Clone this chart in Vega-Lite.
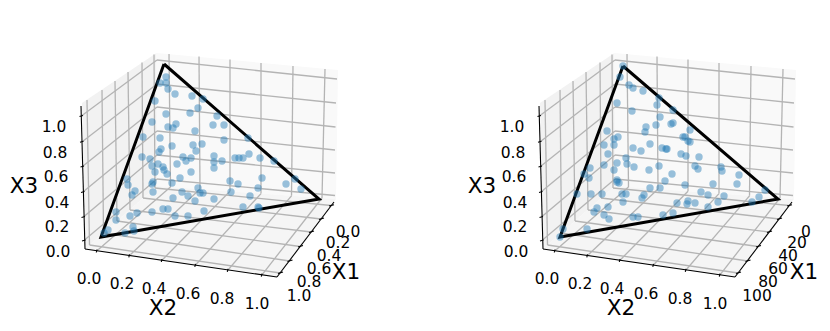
{
"$schema":"https://vega.github.io/schema/vega-lite/v6.json",
"width":830,"height":331,"padding":0,"autosize":{"type":"fit","contains":"padding"},
"background":"white","config":{"view":{"stroke":null}},
"datasets":{
"panes":[
{"p":"l1","o":0,"x":82,"y":103},{"p":"l1","o":1,"x":156.5,"y":53},{"p":"l1","o":2,"x":157,"y":186},{"p":"l1","o":3,"x":85,"y":249},
{"p":"l2","o":0,"x":540,"y":103},{"p":"l2","o":1,"x":614.5,"y":53},{"p":"l2","o":2,"x":615,"y":186},{"p":"l2","o":3,"x":543,"y":249}],
"panesB":[
{"p":"b1","o":0,"x":156.5,"y":53},{"p":"b1","o":1,"x":338,"y":70},{"p":"b1","o":2,"x":336,"y":199},{"p":"b1","o":3,"x":157,"y":186},
{"p":"b2","o":0,"x":614.5,"y":53},{"p":"b2","o":1,"x":796,"y":70},{"p":"b2","o":2,"x":794,"y":199},{"p":"b2","o":3,"x":615,"y":186}],
"panesF":[
{"p":"f1","o":0,"x":85,"y":249},{"p":"f1","o":1,"x":277,"y":277},{"p":"f1","o":2,"x":336,"y":199},{"p":"f1","o":3,"x":157,"y":186},
{"p":"f2","o":0,"x":543,"y":249},{"p":"f2","o":1,"x":735,"y":277},{"p":"f2","o":2,"x":794,"y":199},{"p":"f2","o":3,"x":615,"y":186}],
"grid":[
{"x":169,"y":54,"x2":170.5,"y2":187},{"x":199,"y":56.5,"x2":200,"y2":189},{"x":230,"y":59.5,"x2":230,"y2":191.3},{"x":261,"y":63,"x2":261,"y2":193.6},{"x":293,"y":66,"x2":291.5,"y2":195.8},{"x":325,"y":69,"x2":322,"y2":198},
{"x":157,"y":60,"x2":337,"y2":79},{"x":157,"y":84,"x2":336,"y2":103},{"x":157,"y":107,"x2":335.5,"y2":127},{"x":157,"y":131,"x2":335,"y2":150},{"x":157,"y":155,"x2":335,"y2":173},{"x":157,"y":179,"x2":335,"y2":195.5},
{"x":82,"y":115.5,"x2":157,"y2":60},{"x":82.5,"y":141.5,"x2":157,"y2":84},{"x":83,"y":166,"x2":157,"y2":107},{"x":83.5,"y":191.5,"x2":157,"y2":131},{"x":84,"y":216.5,"x2":157,"y2":155},{"x":84.5,"y":240,"x2":157,"y2":179},
{"x":87,"y":100,"x2":89.5,"y2":245},{"x":102,"y":90,"x2":103.5,"y2":233},{"x":115,"y":81,"x2":117,"y2":221},{"x":128,"y":72,"x2":130,"y2":210},{"x":142,"y":62.5,"x2":143,"y2":198},{"x":154,"y":54.5,"x2":155,"y2":188},
{"x":155,"y":188,"x2":331,"y2":205.5},{"x":143,"y":198,"x2":321,"y2":219},{"x":130,"y":210,"x2":311,"y2":232},{"x":117,"y":221,"x2":300,"y2":246.5},{"x":103.5,"y":233,"x2":289.5,"y2":261},{"x":89.5,"y":245,"x2":280,"y2":273},
{"x":170.5,"y":187,"x2":97,"y2":250.7},{"x":200,"y":189,"x2":129.5,"y2":255.5},{"x":230,"y":191.3,"x2":162,"y2":260.2},{"x":261,"y":193.6,"x2":195.5,"y2":265},{"x":291.5,"y":195.8,"x2":228,"y2":270},{"x":322,"y":198,"x2":262,"y2":274.8},
{"x":627,"y":54,"x2":628.5,"y2":187},{"x":657,"y":56.5,"x2":658,"y2":189},{"x":688,"y":59.5,"x2":688,"y2":191.3},{"x":719,"y":63,"x2":719,"y2":193.6},{"x":751,"y":66,"x2":749.5,"y2":195.8},{"x":783,"y":69,"x2":780,"y2":198},
{"x":615,"y":60,"x2":795,"y2":79},{"x":615,"y":84,"x2":794,"y2":103},{"x":615,"y":107,"x2":793.5,"y2":127},{"x":615,"y":131,"x2":793,"y2":150},{"x":615,"y":155,"x2":793,"y2":173},{"x":615,"y":179,"x2":793,"y2":195.5},
{"x":540,"y":115.5,"x2":615,"y2":60},{"x":540.5,"y":141.5,"x2":615,"y2":84},{"x":541,"y":166,"x2":615,"y2":107},{"x":541.5,"y":191.5,"x2":615,"y2":131},{"x":542,"y":216.5,"x2":615,"y2":155},{"x":542.5,"y":240,"x2":615,"y2":179},
{"x":545,"y":100,"x2":547.5,"y2":245},{"x":560,"y":90,"x2":561.5,"y2":233},{"x":573,"y":81,"x2":575,"y2":221},{"x":586,"y":72,"x2":588,"y2":210},{"x":600,"y":62.5,"x2":601,"y2":198},{"x":612,"y":54.5,"x2":613,"y2":188},
{"x":613,"y":188,"x2":789,"y2":205.5},{"x":601,"y":198,"x2":779,"y2":219},{"x":588,"y":210,"x2":769,"y2":232},{"x":575,"y":221,"x2":758,"y2":246.5},{"x":561.5,"y":233,"x2":747.5,"y2":261},{"x":547.5,"y":245,"x2":738,"y2":273},
{"x":628.5,"y":187,"x2":555,"y2":250.7},{"x":658,"y":189,"x2":587.5,"y2":255.5},{"x":688,"y":191.3,"x2":620,"y2":260.2},{"x":719,"y":193.6,"x2":653.5,"y2":265},{"x":749.5,"y":195.8,"x2":686,"y2":270},{"x":780,"y":198,"x2":720,"y2":274.8}],
"axes":[
{"x":85,"y":249,"x2":277,"y2":277},{"x":277,"y":277,"x2":334,"y2":202},{"x":81,"y":106,"x2":85,"y2":249},
{"x":543,"y":249,"x2":735,"y2":277},{"x":735,"y":277,"x2":792,"y2":202},{"x":539,"y":106,"x2":543,"y2":249},
{"x":97,"y":249.5,"x2":96.3,"y2":252.5},{"x":129.5,"y":254.3,"x2":128.8,"y2":257.3},{"x":162,"y":259,"x2":161.3,"y2":262},{"x":195.5,"y":263.8,"x2":194.8,"y2":266.8},{"x":228,"y":268.8,"x2":227.3,"y2":271.8},{"x":262,"y":273.6,"x2":261.3,"y2":276.6},
{"x":329,"y":206,"x2":334,"y2":204.7},{"x":319,"y":219.5,"x2":324,"y2":218},{"x":309,"y":232.5,"x2":314,"y2":231},{"x":298,"y":247,"x2":303,"y2":245.5},{"x":287.5,"y":261.5,"x2":292.5,"y2":260},{"x":278,"y":273.5,"x2":283,"y2":272},
{"x":79.5,"y":116.5,"x2":83,"y2":115.5},{"x":80,"y":142.3,"x2":83.5,"y2":141.3},{"x":80.5,"y":167,"x2":84,"y2":166},{"x":81,"y":192.5,"x2":84.5,"y2":191.5},{"x":81.5,"y":217.5,"x2":85,"y2":216.5},{"x":82,"y":241,"x2":85.5,"y2":240},
{"x":555,"y":249.5,"x2":554.3,"y2":252.5},{"x":587.5,"y":254.3,"x2":586.8,"y2":257.3},{"x":620,"y":259,"x2":619.3,"y2":262},{"x":653.5,"y":263.8,"x2":652.8,"y2":266.8},{"x":686,"y":268.8,"x2":685.3,"y2":271.8},{"x":720,"y":273.6,"x2":719.3,"y2":276.6},
{"x":787,"y":206,"x2":792,"y2":204.7},{"x":777,"y":219.5,"x2":782,"y2":218},{"x":767,"y":232.5,"x2":772,"y2":231},{"x":756,"y":247,"x2":761,"y2":245.5},{"x":745.5,"y":261.5,"x2":750.5,"y2":260},{"x":736,"y":273.5,"x2":741,"y2":272},
{"x":537.5,"y":116.5,"x2":541,"y2":115.5},{"x":538,"y":142.3,"x2":541.5,"y2":141.3},{"x":538.5,"y":167,"x2":542,"y2":166},{"x":539,"y":192.5,"x2":542.5,"y2":191.5},{"x":539.5,"y":217.5,"x2":543,"y2":216.5},{"x":540,"y":241,"x2":543.5,"y2":240}],
"triangle":[
{"p":"t1","o":0,"x":164,"y":64},{"p":"t1","o":1,"x":319,"y":199},{"p":"t1","o":2,"x":101,"y":237},{"p":"t1","o":3,"x":164,"y":64},
{"p":"t2","o":0,"x":623,"y":66},{"p":"t2","o":1,"x":778,"y":199},{"p":"t2","o":2,"x":560,"y":237},{"p":"t2","o":3,"x":623,"y":66}],
"points":[
{"x":166,"y":77},{"x":160,"y":83},{"x":166,"y":83},{"x":168,"y":89},{"x":175,"y":94},{"x":192,"y":96},{"x":155,"y":101},{"x":166,"y":114},{"x":190,"y":113},{"x":198,"y":108},{"x":152,"y":122},{"x":176,"y":124},{"x":168,"y":127},{"x":173,"y":128},{"x":195,"y":131},{"x":143,"y":137},{"x":160,"y":138},{"x":172,"y":146},{"x":193,"y":145},{"x":196,"y":151},{"x":161,"y":149},{"x":159,"y":152},{"x":142,"y":157},{"x":150,"y":159},{"x":183,"y":157},{"x":191,"y":158},{"x":186,"y":161},{"x":177,"y":164},{"x":152,"y":166},{"x":158,"y":164},{"x":163,"y":167},{"x":164,"y":170},{"x":155,"y":172},{"x":167,"y":174},{"x":191,"y":172},{"x":180,"y":178},{"x":127,"y":179},{"x":128,"y":185},{"x":135,"y":191},{"x":132,"y":195},{"x":152,"y":184},{"x":153,"y":182},{"x":153,"y":192},{"x":172,"y":183},{"x":182,"y":192},{"x":188,"y":196},{"x":173,"y":198},{"x":195,"y":201},{"x":116,"y":212},{"x":116,"y":220},{"x":130,"y":216},{"x":137,"y":213},{"x":152,"y":212},{"x":163,"y":209},{"x":168,"y":209},{"x":175,"y":216},{"x":188,"y":216},{"x":108,"y":230},{"x":104,"y":233},{"x":133,"y":227},{"x":134,"y":231},{"x":125,"y":233},
{"x":203,"y":99},{"x":217,"y":116},{"x":213,"y":125},{"x":224,"y":125},{"x":224,"y":140},{"x":248,"y":138},{"x":202,"y":144},{"x":214,"y":156},{"x":214,"y":162},{"x":222,"y":161},{"x":214,"y":168},{"x":235,"y":158},{"x":239,"y":158},{"x":243,"y":158},{"x":249,"y":154},{"x":260,"y":158},{"x":274,"y":161},{"x":230,"y":181},{"x":262,"y":178},{"x":295,"y":179},{"x":238,"y":184},{"x":258,"y":188},{"x":286,"y":184},{"x":301,"y":189},{"x":231,"y":192},{"x":250,"y":196},{"x":198,"y":188},{"x":200,"y":193},{"x":203,"y":193},{"x":214,"y":199},{"x":204,"y":211},{"x":243,"y":207},{"x":258,"y":207},{"x":259,"y":208},
{"x":623,"y":66},{"x":620,"y":77},{"x":629,"y":85},{"x":633,"y":88},{"x":643,"y":91},{"x":617,"y":103},{"x":632,"y":111},{"x":659,"y":98},{"x":657,"y":105},{"x":660,"y":117},{"x":646,"y":127},{"x":645,"y":132},{"x":607,"y":131},{"x":618,"y":137},{"x":614,"y":139},{"x":604,"y":145},{"x":614,"y":145},{"x":650,"y":144},{"x":633,"y":148},{"x":641,"y":151},{"x":662,"y":148},{"x":608,"y":154},{"x":626,"y":158},{"x":604,"y":165},{"x":617,"y":163},{"x":627,"y":164},{"x":634,"y":167},{"x":649,"y":170},{"x":659,"y":166},{"x":590,"y":168},{"x":614,"y":170},{"x":584,"y":174},{"x":589,"y":178},{"x":617,"y":180},{"x":577,"y":194},{"x":591,"y":194},{"x":602,"y":194},{"x":617,"y":182},{"x":619,"y":183},{"x":622,"y":194},{"x":626,"y":194},{"x":644,"y":195},{"x":642,"y":198},{"x":650,"y":188},{"x":660,"y":188},{"x":623,"y":202},{"x":608,"y":207},{"x":597,"y":208},{"x":594,"y":212},{"x":604,"y":215},{"x":609,"y":219},{"x":633,"y":217},{"x":638,"y":217},{"x":587,"y":229},{"x":563,"y":229},{"x":560,"y":237},
{"x":673,"y":110},{"x":656,"y":125},{"x":671,"y":124},{"x":673,"y":123},{"x":690,"y":130},{"x":683,"y":137},{"x":685,"y":137},{"x":688,"y":141},{"x":690,"y":142},{"x":666,"y":149},{"x":667,"y":149},{"x":681,"y":154},{"x":686,"y":156},{"x":699,"y":157},{"x":695,"y":166},{"x":698,"y":169},{"x":721,"y":167},{"x":722,"y":171},{"x":672,"y":174},{"x":739,"y":175},{"x":665,"y":181},{"x":685,"y":185},{"x":713,"y":184},{"x":737,"y":184},{"x":701,"y":192},{"x":708,"y":195},{"x":724,"y":196},{"x":759,"y":197},{"x":765,"y":190},{"x":677,"y":203},{"x":688,"y":201},{"x":687,"y":204},{"x":695,"y":203},{"x":718,"y":202},{"x":708,"y":207},{"x":752,"y":202},{"x":663,"y":215},{"x":673,"y":213}],
"ticks":[
{"x":54,"y":127,"t":"1.0"},{"x":55,"y":153,"t":"0.8"},{"x":56,"y":177,"t":"0.6"},{"x":57,"y":203,"t":"0.4"},{"x":57,"y":227,"t":"0.2"},{"x":58,"y":252,"t":"0.0"},
{"x":89,"y":279,"t":"0.0"},{"x":122,"y":284,"t":"0.2"},{"x":154,"y":289,"t":"0.4"},{"x":188,"y":294,"t":"0.6"},{"x":222,"y":299,"t":"0.8"},{"x":257,"y":304,"t":"1.0"},
{"x":348,"y":232,"t":"0.0"},{"x":338,"y":243,"t":"0.2"},{"x":329,"y":256,"t":"0.4"},{"x":319,"y":269,"t":"0.6"},{"x":309,"y":282,"t":"0.8"},{"x":299,"y":296,"t":"1.0"},
{"x":512,"y":127,"t":"1.0"},{"x":513,"y":153,"t":"0.8"},{"x":514,"y":177,"t":"0.6"},{"x":515,"y":203,"t":"0.4"},{"x":515,"y":227,"t":"0.2"},{"x":516,"y":252,"t":"0.0"},
{"x":547,"y":279,"t":"0.0"},{"x":580,"y":284,"t":"0.2"},{"x":612,"y":289,"t":"0.4"},{"x":646,"y":294,"t":"0.6"},{"x":680,"y":299,"t":"0.8"},{"x":715,"y":304,"t":"1.0"},
{"x":806,"y":232,"t":"0"},{"x":797,"y":243,"t":"20"},{"x":788,"y":256,"t":"40"},{"x":778,"y":269,"t":"60"},{"x":768,"y":282,"t":"80"},{"x":757,"y":296,"t":"100"}],
"titles":[
{"x":24,"y":187,"t":"X3"},{"x":163,"y":309,"t":"X2"},{"x":346,"y":273,"t":"X1"},
{"x":482,"y":187,"t":"X3"},{"x":621,"y":309,"t":"X2"},{"x":804,"y":273,"t":"X1"}]
},
"encoding":{
"x":{"field":"x","type":"quantitative","scale":{"domain":[0,830],"nice":false,"zero":false},"axis":null},
"y":{"field":"y","type":"quantitative","scale":{"domain":[331,0],"nice":false,"zero":false},"axis":null}
},
"layer":[
{"data":{"name":"panes"},"mark":{"type":"line","fill":"#f2f2f2","stroke":null,"strokeWidth":0,"interpolate":"linear-closed"},"encoding":{"detail":{"field":"p"},"order":{"field":"o"}}},
{"data":{"name":"panesB"},"mark":{"type":"line","fill":"#f9f9f9","stroke":null,"strokeWidth":0,"interpolate":"linear-closed"},"encoding":{"detail":{"field":"p"},"order":{"field":"o"}}},
{"data":{"name":"panesF"},"mark":{"type":"line","fill":"#f5f5f5","stroke":null,"strokeWidth":0,"interpolate":"linear-closed"},"encoding":{"detail":{"field":"p"},"order":{"field":"o"}}},
{"data":{"name":"grid"},"mark":{"type":"rule","color":"#b4b4b4","strokeWidth":1.3},"encoding":{"x2":{"field":"x2"},"y2":{"field":"y2"}}},
{"data":{"name":"axes"},"mark":{"type":"rule","color":"#000000","strokeWidth":1.1},"encoding":{"x2":{"field":"x2"},"y2":{"field":"y2"}}},
{"data":{"name":"triangle"},"mark":{"type":"line","color":"#000000","strokeWidth":3,"strokeJoin":"miter"},"encoding":{"detail":{"field":"p"},"order":{"field":"o"}}},
{"data":{"name":"points"},"mark":{"type":"point","filled":true,"color":"#1f77b4","opacity":0.45,"size":54}},
{"data":{"name":"ticks"},"mark":{"type":"text","font":"DejaVu Sans","fontSize":15.5,"color":"#000000","align":"center","baseline":"middle"},"encoding":{"text":{"field":"t"}}},
{"data":{"name":"titles"},"mark":{"type":"text","font":"DejaVu Sans","fontSize":21.5,"color":"#000000","align":"center","baseline":"middle"},"encoding":{"text":{"field":"t"}}}
]
}
